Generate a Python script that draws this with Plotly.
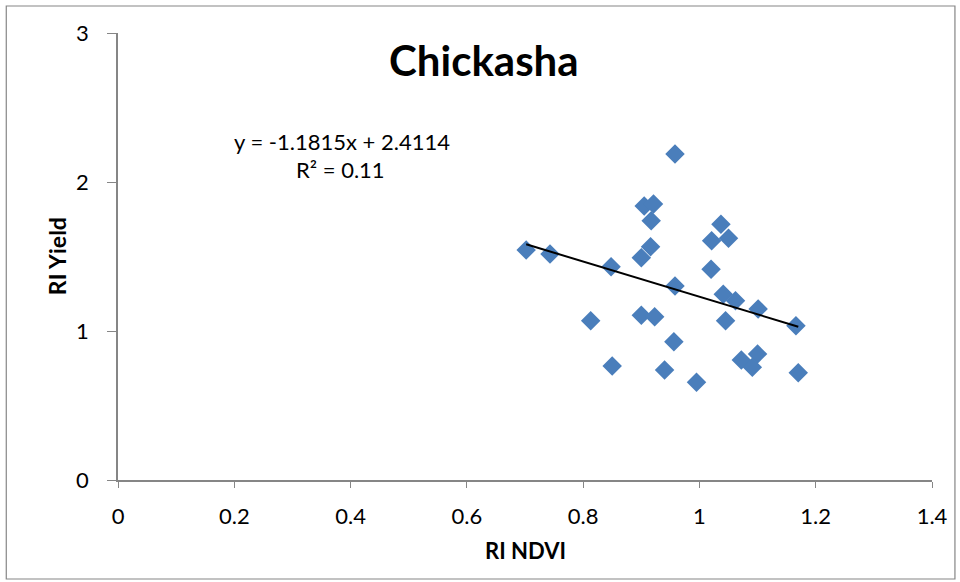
import plotly.graph_objects as go

ndvi = [0.702, 0.743, 0.848, 0.813, 0.850, 0.900, 0.916, 0.917, 0.905, 0.921,
        0.958, 0.958, 0.900, 0.923, 0.956, 0.940, 0.995, 1.037, 1.021, 1.050,
        1.020, 1.041, 1.062, 1.101, 1.045, 1.166, 1.072, 1.100, 1.091, 1.170]
yield_ = [1.544, 1.517, 1.432, 1.069, 0.765, 1.492, 1.566, 1.740, 1.839, 1.852,
          2.188, 1.302, 1.105, 1.096, 0.928, 0.738, 0.656, 1.716, 1.606, 1.622,
          1.414, 1.246, 1.203, 1.148, 1.069, 1.036, 0.805, 0.846, 0.756, 0.720]
slope, intercept = -1.1815, 2.4114
title = "Chickasha"
x_title = "RI NDVI"
y_title = "RI Yield"
eq_text = "y = -1.1815x + 2.4114"
r2_text = "R² = 0.11"

FONT = "Lato"
blue = "#4A7EBB"
grey = "#868686"

xmin, xmax = min(ndvi), max(ndvi)
trend_x = [xmin, xmax]
trend_y = [slope * v + intercept for v in trend_x]

fig = go.Figure()
fig.add_trace(go.Scatter(x=ndvi, y=yield_, mode="markers",
                         marker=dict(symbol="diamond", size=15, color=blue,
                                     line=dict(width=0)),
                         showlegend=False, hoverinfo="x+y"))
fig.add_trace(go.Scatter(x=trend_x, y=trend_y, mode="lines",
                         line=dict(color="black", width=2),
                         showlegend=False, hoverinfo="skip"))

L, R, T, B = 118, 26, 33, 102
W, H = 960, 582
pw, ph = W - L - R, H - T - B

def px_x(p):
    return (p - L) / pw

def px_y(p):
    return (H - B - p) / ph

fig.update_layout(
    width=W, height=H,
    margin=dict(l=L, r=R, t=T, b=B, pad=0),
    paper_bgcolor="white", plot_bgcolor="white",
    font=dict(family=FONT, size=22, color="black"),
    xaxis=dict(range=[0, 1.4], dtick=0.2, tick0=0, showgrid=False, zeroline=False,
               showline=True, linecolor=grey, linewidth=1.5,
               ticks="outside", ticklen=6, tickcolor=grey, tickwidth=1,
               ticklabelstandoff=10,
               tickfont=dict(family=FONT, size=22), fixedrange=True),
    yaxis=dict(range=[0, 3], dtick=1, tick0=0, showgrid=False, zeroline=False,
               showline=True, linecolor=grey, linewidth=1.5,
               ticks="outside", ticklen=9, tickcolor=grey, tickwidth=1,
               ticklabelstandoff=14,
               tickfont=dict(family=FONT, size=22), fixedrange=True),
    shapes=[dict(type="rect", xref="paper", yref="paper",
                 x0=px_x(6), x1=px_x(957), y0=px_y(579), y1=px_y(6),
                 line=dict(color=grey, width=1.2), fillcolor="rgba(0,0,0,0)",
                 layer="below")],
    annotations=[
        dict(text="<b>" + title + "</b>", xref="paper", yref="paper",
             x=px_x(485), y=px_y(60), xanchor="center", yanchor="middle",
             showarrow=False, font=dict(family=FONT, size=42)),
        dict(text=eq_text, xref="paper", yref="paper",
             x=px_x(343), y=px_y(141), xanchor="center", yanchor="middle",
             showarrow=False, font=dict(family=FONT, size=22)),
        dict(text=r2_text, xref="paper", yref="paper",
             x=px_x(341), y=px_y(170), xanchor="center", yanchor="middle",
             showarrow=False, font=dict(family=FONT, size=22)),
        dict(text="<b>" + x_title + "</b>", xref="paper", yref="paper",
             x=px_x(526), y=px_y(550), xanchor="center", yanchor="middle",
             showarrow=False, font=dict(family=FONT, size=22)),
        dict(text="<b>" + y_title + "</b>", xref="paper", yref="paper",
             x=px_x(57), y=px_y(256), xanchor="center", yanchor="middle",
             textangle=-90, showarrow=False, font=dict(family=FONT, size=23)),
    ],
)

fig.write_html("out.html")
